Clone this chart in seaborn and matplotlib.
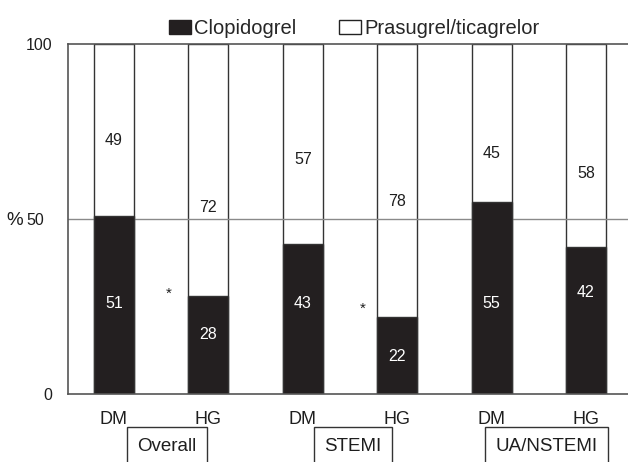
import matplotlib
matplotlib.use("Agg")
import matplotlib.pyplot as plt
from matplotlib.patches import Patch
import pandas as pd
import seaborn as sns

# data
groups = ["Overall", "Overall", "STEMI", "STEMI", "UA/NSTEMI", "UA/NSTEMI"]
subgroups = ["DM", "HG", "DM", "HG", "DM", "HG"]
clopidogrel = [51, 28, 43, 22, 55, 42]
prasugrel_ticagrelor = [49, 72, 57, 78, 45, 58]
significant_groups = ["Overall", "STEMI"]
y_ticks = [0, 50, 100]
y_tick_labels = ["0", "50", "100"]

# where the printed numbers sit inside each bar (data units)
clop_label_y = [26, 17, 26, 10.6, 26, 29]
pt_label_y = [72.5, 53.3, 67, 55, 68.8, 63]

BLACK = "#231f20"
EDGE = "#333333"
TEXT = "#1e1e1e"
BAR_W = 0.424

df = pd.DataFrame({
    "group": groups,
    "subgroup": subgroups,
    "Clopidogrel": clopidogrel,
    "Prasugrel/ticagrelor": prasugrel_ticagrelor,
})
df["bar"] = df["group"] + " " + df["subgroup"]
df["total"] = df["Clopidogrel"] + df["Prasugrel/ticagrelor"]

sns.set_style("white")
plt.rcParams["font.family"] = ["Liberation Sans", "DejaVu Sans"]

fig = plt.figure(figsize=(6.28, 4.62), dpi=100)
ax = fig.add_axes([68 / 628, 68 / 462, 560 / 628, 350 / 462])

sns.barplot(data=df, x="bar", y="total", color="white", saturation=1,
            edgecolor=EDGE, linewidth=1, width=BAR_W, ax=ax, zorder=1)
sns.barplot(data=df, x="bar", y="Clopidogrel", color=BLACK, saturation=1,
            edgecolor=EDGE, linewidth=1, width=BAR_W, ax=ax, zorder=2)

ax.axhline(50, color="#8a8a8a", lw=1, zorder=1.5)

ax.set_xlim(-0.487, 5.445)
ax.set_ylim(0, 100)
ax.set_yticks(y_ticks)
ax.set_yticklabels(y_tick_labels)
ax.set_xticks(range(len(subgroups)))
ax.set_xticklabels(subgroups)
ax.set_xlabel("")
ax.tick_params(axis="y", length=0, pad=11, labelsize=11.5, colors=TEXT)
ax.tick_params(axis="x", length=0, pad=12, labelsize=13, colors=TEXT)
# the 50 label sits a little further from the axis than 0 and 100
ax.yaxis.get_major_ticks()[1].set_pad(17.5)

ax.set_ylabel("%", rotation=0, fontsize=13.5, color=TEXT, ha="center", va="center")
ax.yaxis.set_label_coords(-0.095, 0.495)

for side in ["left", "top", "bottom"]:
    ax.spines[side].set_color("#555555")
    ax.spines[side].set_linewidth(1.2)
ax.spines["right"].set_visible(False)

# values printed in the bars
for i in range(len(df)):
    ax.text(i, clop_label_y[i], str(clopidogrel[i]), color="white",
            ha="center", va="center", fontsize=11.5, zorder=3)
    ax.text(i, pt_label_y[i], str(prasugrel_ticagrelor[i]), color=TEXT,
            ha="center", va="center", fontsize=11.5, zorder=3)

# asterisks between DM and HG for significant groups
star_pos = {"Overall": (0.58, 27.5), "STEMI": (2.64, 23.2)}
for g in significant_groups:
    x, y = star_pos[g]
    ax.text(x, y, "*", ha="center", va="baseline", fontsize=11, color=TEXT)

# boxed group names under the tick labels
group_x = {"Overall": 0.56, "STEMI": 2.53, "UA/NSTEMI": 4.58}
for g, gx in group_x.items():
    ax.text(gx, -0.149, g, transform=ax.get_xaxis_transform(),
            ha="center", va="center", fontsize=13.5, color=TEXT,
            bbox=dict(boxstyle="square,pad=0.55", facecolor="white",
                      edgecolor="#333333", linewidth=1),
            clip_on=False)

handles = [Patch(facecolor=BLACK, edgecolor=BLACK),
           Patch(facecolor="white", edgecolor="#222222")]
fig.legend(handles, ["Clopidogrel", "Prasugrel/ticagrelor"], loc="center",
           bbox_to_anchor=(0.564, 0.938), ncol=2, frameon=False,
           handlelength=1.1, handleheight=0.75, handletextpad=0.15,
           columnspacing=2.1, fontsize=14.5)

fig.savefig("out.png", dpi=100)
